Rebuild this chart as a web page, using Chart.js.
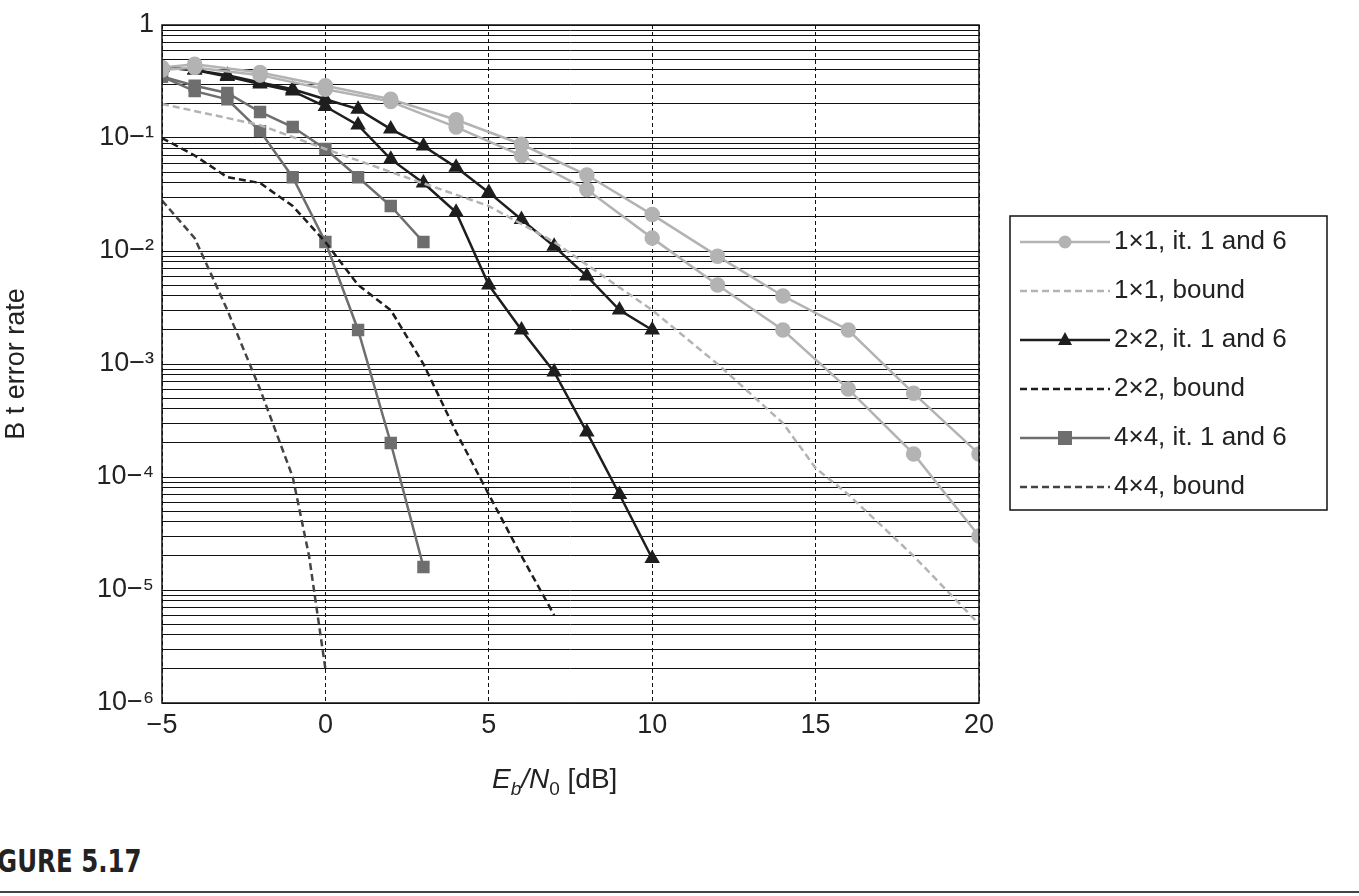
<!DOCTYPE html>
<html><head><meta charset="utf-8">
<script src="https://cdn.jsdelivr.net/npm/chart.js@4/dist/chart.umd.min.js"></script>
<style>
body{margin:0;background:#fff;width:1359px;height:896px;position:relative;overflow:hidden;font-family:"Liberation Sans",Arial,sans-serif}
#c{position:absolute;left:0;top:0}
#cap{position:absolute;left:-12px;top:842px;font:bold 32px "Liberation Sans Narrow","DejaVu Sans Condensed",sans-serif;color:#222;transform:scaleX(0.85);transform-origin:left}
#rule{position:absolute;left:0;right:0;top:891px;height:2px;background:#444}
</style></head><body>
<canvas id="c" width="1359" height="800"></canvas>
<div id="cap">IGURE 5.17</div><div id="rule"></div>
<script>
const snrFull=[-5,-4,-3,-2,-1,0,1,2,3,4,5,6,7,8,9,10];
const snr1x1=[-5,-4,-2,0,2,4,6,8,10,12,14,16,18,20];
const ber1x1it1=[0.42,0.45,0.38,0.29,0.22,0.145,0.088,0.047,0.021,0.009,0.004,0.002,0.00055,0.00016];
const ber1x1it6=[0.4,0.42,0.36,0.27,0.21,0.125,0.07,0.035,0.013,0.005,0.002,0.0006,0.00016,0.00003];
const snr1x1b=[-5,-2,0,2,5,7,10,12,14,15,16,18,20];
const ber1x1bound=[0.2,0.13,0.08,0.05,0.025,0.012,0.003,0.001,0.0003,0.00012,0.00007,0.00002,0.000005];
const ber2x2it1=[0.42,0.4,0.36,0.31,0.27,0.22,0.18,0.12,0.085,0.055,0.033,0.019,0.011,0.006,0.003,0.002];
const ber2x2it6=[0.42,0.4,0.35,0.3,0.26,0.19,0.13,0.065,0.04,0.022,0.005,0.002,0.00085,0.00025,0.00007,0.000019];
const snr2x2b=[-5,-4,-3,-2,-1,0,1,2,3,4,5,6,7];
const ber2x2bound=[0.1,0.07,0.045,0.04,0.025,0.012,0.005,0.003,0.001,0.00025,0.00007,0.00002,0.000006];
const snr4x4=[-5,-4,-3,-2,-1,0,1,2,3];
const ber4x4it1=[0.35,0.29,0.25,0.17,0.125,0.08,0.045,0.025,0.012];
const ber4x4it6=[0.35,0.26,0.22,0.115,0.045,0.012,0.002,0.0002,0.000016];
const snr4x4b=[-5,-4,-3,-2,-1,-0.5,0];
const ber4x4bound=[0.028,0.013,0.003,0.0006,0.0001,0.00002,0.000002];
const legendLabels=["1\u00d71, it. 1 and 6","1\u00d71, bound","2\u00d72, it. 1 and 6","2\u00d72, bound","4\u00d74, it. 1 and 6","4\u00d74, bound"];
const xTicks=[-5,0,5,10,15,20];

const pts=(xs,ys)=>xs.map((x,i)=>({x,y:ys[i]}));
const C1='#b3b3b3',C2='#1e1e1e',C4='#6e6e6e';
function ds(xs,ys,color,style,dash,leg){
  return {data:pts(xs,ys),borderColor:color,backgroundColor:color,borderWidth:2.5,
    pointStyle:style||'circle',pointRadius:style?(style==='rect'?7:6.5):0,borderDash:dash||[],legIdx:leg,tension:0};
}
const datasets=[
 ds(snr1x1,ber1x1it1,C1,'circle',null,0),
 ds(snr1x1,ber1x1it6,C1,'circle',null,-1),
 ds(snr1x1b,ber1x1bound,C1,null,[7,4],1),
 ds(snrFull,ber2x2it1,C2,'triangle',null,2),
 ds(snrFull,ber2x2it6,C2,'triangle',null,-1),
 ds(snr2x2b,ber2x2bound,C2,null,[7,4],3),
 ds(snr4x4,ber4x4it1,C4,'rect',null,4),
 ds(snr4x4,ber4x4it6,C4,'rect',null,-1),
 ds(snr4x4b,ber4x4bound,'#444',null,[7,4],5),
];
const sup={'-':'\u2212','1':'\u00b9','2':'\u00b2','3':'\u00b3','4':'\u2074','5':'\u2075','6':'\u2076'};
const extra={id:'extra',afterDraw(ch){
  const c=ch.ctx,a=ch.chartArea;
  c.save();
  c.strokeStyle='#111';c.lineWidth=1.5;c.setLineDash([]);
  c.strokeRect(a.left,a.top,a.right-a.left,a.bottom-a.top);
  // legend
  const lx=1010,ly=216,lw=317,lh=294;
  c.fillStyle='#fff';c.fillRect(lx,ly,lw,lh);c.lineWidth=1.5;c.strokeRect(lx,ly,lw,lh);
  c.font='26px "Liberation Sans",Arial';c.textBaseline='middle';c.fillStyle='#222';
  legendLabels.forEach((t,i)=>{
    const d=datasets.find(v=>v.legIdx===i);const y=ly+26+i*49;
    c.strokeStyle=d.borderColor;c.lineWidth=2.5;c.setLineDash(d.borderDash);
    c.beginPath();c.moveTo(lx+10,y);c.lineTo(lx+100,y);c.stroke();c.setLineDash([]);
    if(d.pointRadius){c.fillStyle=d.borderColor;const m=lx+55;c.beginPath();
      if(d.pointStyle==='circle'){c.arc(m,y,6.5,0,7);}
      else if(d.pointStyle==='rect'){c.rect(m-7,y-7,14,14);}
      else {c.moveTo(m,y-8);c.lineTo(m+7,y+5);c.lineTo(m-7,y+5);c.closePath();}
      c.fill();}
    c.fillStyle='#222';c.fillText(t,lx+104,y);
  });
  // x title
  c.textBaseline='alphabetic';const by=788;let x=492;
  const seg=(t,f,dy)=>{c.font=f;c.fillText(t,x,by+dy);x+=c.measureText(t).width;};
  seg('E','italic 28px "Liberation Sans"',0);seg('b','italic 19px "Liberation Sans"',7);
  seg('/N','italic 28px "Liberation Sans"',0);seg('0','19px "Liberation Sans"',7);seg(' [dB]','28px "Liberation Sans"',0);
  c.restore();
}};
new Chart(document.getElementById('c'),{type:'line',data:{datasets},plugins:[extra],
 options:{responsive:false,animation:false,layout:{padding:{top:25,right:380,left:0,bottom:0}},
  plugins:{legend:{display:false},tooltip:{enabled:false}},
  scales:{
   x:{type:'linear',min:-5,max:20,afterBuildTicks:s=>{s.ticks=xTicks.map(v=>({value:v}));},
     afterFit:s=>{s.height=97;},
     grid:{color:'#111',lineWidth:1,drawTicks:false,tickBorderDash:[4,3]},border:{display:false,dash:[4,3]},
     ticks:{color:'#222',font:{size:27,family:'Liberation Sans'},padding:6,callback:v=>v<0?'\u2212'+(-v):''+v}},
   y:{type:'logarithmic',min:1e-6,max:1,
     afterBuildTicks:s=>{const t=[];for(let e=-6;e<0;e++)for(let m=1;m<10;m++)t.push({value:m*Math.pow(10,e)});t.push({value:1});s.ticks=t;},
     afterFit:s=>{s.width=162;},
     grid:{color:'#111',lineWidth:1,drawTicks:false},border:{display:false},
     title:{display:true,text:'B t error rate',font:{size:27,family:'Liberation Sans'},color:'#222',padding:0},
     ticks:{color:'#222',font:{size:27,family:'Liberation Sans'},padding:8,autoSkip:false,
       callback:v=>{const e=Math.round(Math.log10(v));if(Math.abs(v-Math.pow(10,e))>1e-12*Math.pow(10,e)*10)return '';
         if(e===0)return '1';return '10'+String(e).split('').map(ch=>sup[ch]).join('');}}}
  }}});
// dashed gridlines
Chart.defaults.scale.grid.borderDash=[4,3];
</script></body></html>
